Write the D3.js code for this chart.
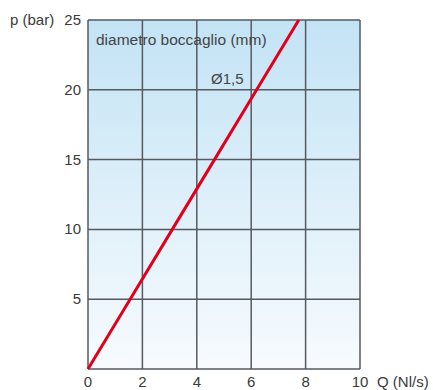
<!DOCTYPE html>
<html><head><meta charset="utf-8">
<script src="https://cdn.jsdelivr.net/npm/d3@7"></script>
<style>body{margin:0;background:#fff}svg{display:block}</style>
</head><body><svg id="c" width="433" height="390"></svg>
<script>
const xTicks = [0, 2, 4, 6, 8, 10];
const yTicks = [5, 10, 15, 20, 25];
const flowQ = [0, 1.55, 3.1, 4.65, 6.2, 7.75];
const pressureP = [0, 5, 10, 15, 20, 25];
const seriesLabel = "Ø1,5";
const legendTitle = "diametro boccaglio (mm)";

const svg = d3.select("#c");
const L = 88, R = 360, T = 20, B = 369;
const x = d3.scaleLinear().domain([0, 10]).range([L, R]);
const y = d3.scaleLinear().domain([0, 25]).range([B, T]);

const defs = svg.append("defs");
const g = defs.append("linearGradient").attr("id", "bg").attr("x1", 0).attr("y1", 0).attr("x2", 0).attr("y2", 1);
g.append("stop").attr("offset", "0%").attr("stop-color", "#c3e3f5");
g.append("stop").attr("offset", "100%").attr("stop-color", "#f7fbfe");

svg.append("rect").attr("x", L).attr("y", T).attr("width", R - L).attr("height", B - T).attr("fill", "url(#bg)");

const grid = svg.append("g").attr("stroke", "#555a60").attr("stroke-width", 1.5);
grid.selectAll(".v").data(xTicks).join("line")
  .attr("x1", d => x(d)).attr("x2", d => x(d)).attr("y1", T).attr("y2", B);
grid.selectAll(".h").data([0].concat(yTicks)).join("line")
  .attr("x1", L).attr("x2", R).attr("y1", d => y(d)).attr("y2", d => y(d));

const font = "Liberation Sans, Arial, sans-serif";
svg.append("g").selectAll("text").data(xTicks).join("text")
  .attr("x", d => x(d)).attr("y", 387).attr("text-anchor", "middle")
  .attr("font-family", font).attr("font-size", 15).attr("fill", "#3a3a3a")
  .text(d => d);
svg.append("g").selectAll("text").data(yTicks).join("text")
  .attr("x", 81).attr("y", d => y(d) + 5).attr("text-anchor", "end")
  .attr("font-family", font).attr("font-size", 15).attr("fill", "#3a3a3a")
  .text(d => d);
svg.append("text").attr("x", 10).attr("y", 25).attr("font-family", font).attr("font-size", 15).attr("fill", "#3a3a3a").text("p (bar)");
svg.append("text").attr("x", 377).attr("y", 387).attr("font-family", font).attr("font-size", 15).attr("fill", "#3a3a3a").text("Q (Nl/s)");

svg.append("text").attr("x", 96).attr("y", 45).attr("font-family", font).attr("font-size", 15.5).attr("fill", "#444").text(legendTitle);
svg.append("text").attr("x", 211).attr("y", 84).attr("font-family", font).attr("font-size", 15).attr("fill", "#444").text(seriesLabel);

const pts = flowQ.map((q, i) => [q, pressureP[i]]);
svg.append("path").datum(pts)
  .attr("d", d3.line().x(d => x(d[0])).y(d => y(d[1])))
  .attr("fill", "none").attr("stroke", "#e0001b").attr("stroke-width", 3);
</script></body></html>
